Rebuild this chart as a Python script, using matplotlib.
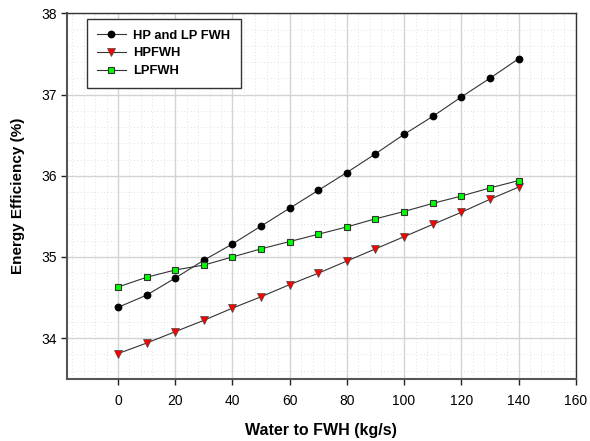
import matplotlib.pyplot as plt
from matplotlib.ticker import MultipleLocator

plt.rcParams['font.family'] = ['Liberation Sans', 'DejaVu Sans']

# Mass flow of water sent to the feed water heaters (kg/s)
water_flow = [0, 10, 20, 30, 40, 50, 60, 70, 80, 90, 100, 110, 120, 130, 140]

# Energy efficiency (%) for each heater configuration
eff_hp_lp = [34.38, 34.53, 34.74, 34.96, 35.16, 35.38, 35.60, 35.82, 36.04,
             36.27, 36.51, 36.73, 36.97, 37.20, 37.44]
eff_hpfwh = [33.81, 33.94, 34.08, 34.22, 34.37, 34.51, 34.66, 34.80, 34.95,
             35.10, 35.25, 35.40, 35.55, 35.71, 35.86]
eff_lpfwh = [34.63, 34.75, 34.84, 34.90, 35.00, 35.10, 35.19, 35.28, 35.37,
             35.47, 35.56, 35.66, 35.75, 35.85, 35.94]

fig = plt.figure(figsize=(5.9, 4.41), dpi=100)
ax = fig.add_axes([0.1136, 0.141, 0.8622, 0.8288])

ax.plot(water_flow, eff_hp_lp, color='#333333', lw=0.8, marker='o', ms=4.6,
        mfc='black', mec='black', label='HP and LP FWH')
ax.plot(water_flow, eff_hpfwh, color='#333333', lw=0.8, marker='v', ms=5.8,
        mfc='#ff0000', mec='#444444', mew=0.5, label='HPFWH')
ax.plot(water_flow, eff_lpfwh, color='#333333', lw=0.8, marker='s', ms=5,
        mfc='#00ff00', mec='#333333', mew=0.8, label='LPFWH')

ax.set_xlim(-17.8, 160)
ax.set_ylim(33.5, 38)
ax.set_xticks([0, 20, 40, 60, 80, 100, 120, 140, 160])
ax.set_yticks([34, 35, 36, 37, 38])
ax.xaxis.set_minor_locator(MultipleLocator(4))
ax.yaxis.set_minor_locator(MultipleLocator(0.2))

ax.grid(which='major', color='#d3d3d3', lw=1.0)
ax.grid(which='minor', color='#d5d5d5', lw=0.6, ls=(0, (1, 3)))
ax.set_axisbelow(True)

ax.tick_params(which='major', direction='out', length=4, width=1,
               color='#222222', labelsize=10, pad=7)
ax.tick_params(axis='y', which='major', pad=3)
ax.tick_params(which='minor', length=0)

for side in ['left', 'bottom']:
    ax.spines[side].set_color('#555555')
    ax.spines[side].set_linewidth(1.5)
for side in ['top', 'right']:
    ax.spines[side].set_color('#333333')
    ax.spines[side].set_linewidth(1.0)

ax.set_xlabel('Water to FWH (kg/s)', fontsize=11.5, fontweight='bold', labelpad=11)
ax.set_ylabel('Energy Efficiency (%)', fontsize=11, fontweight='bold', labelpad=12)

leg = ax.legend(loc='upper left', bbox_to_anchor=(0.039, 0.984),
                borderaxespad=0, prop={'weight': 'bold', 'size': 9.3},
                fancybox=False, framealpha=1, edgecolor='#333333',
                borderpad=0.8, handlelength=2.2, labelspacing=0.45,
                handletextpad=0.6)
leg.get_frame().set_linewidth(1.0)

fig.savefig('out.png', dpi=100)
